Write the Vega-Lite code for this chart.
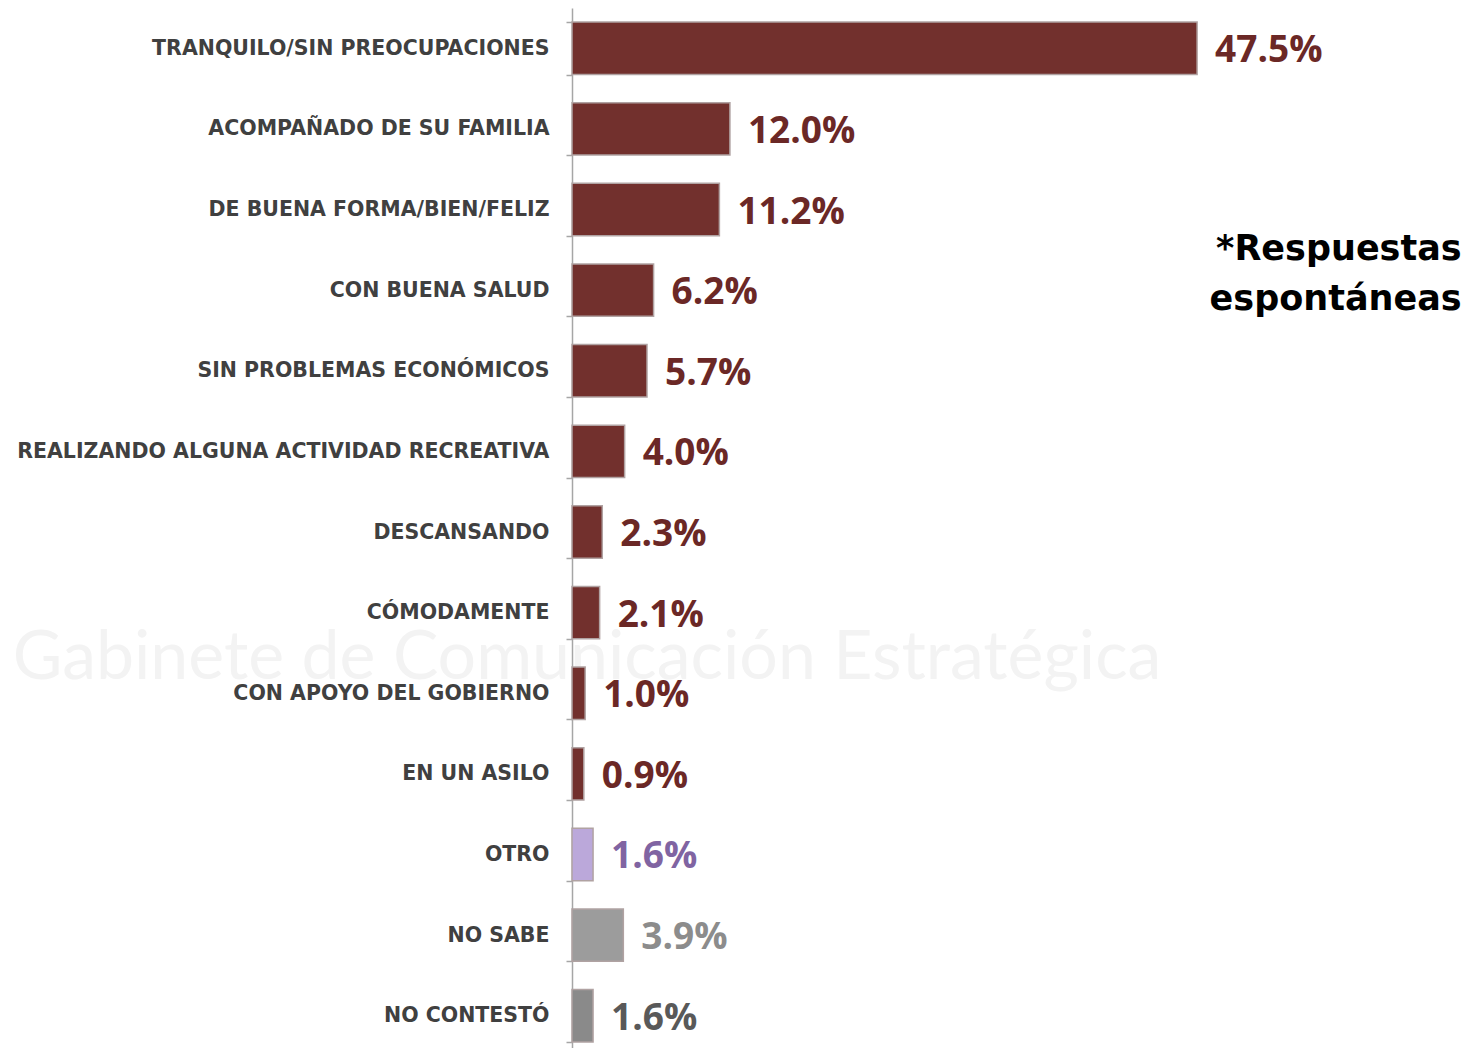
{
  "$schema": "https://vega.github.io/schema/vega-lite/v6.json",
  "width": 912,
  "height": 1048,
  "autosize": {"type": "none"},
  "padding": {"left": 572, "top": 8, "right": 0, "bottom": 0},
  "background": "white",
  "config": {"view": {"stroke": null}},
  "data": {
    "values": [
      {"respuesta": "TRANQUILO/SIN PREOCUPACIONES", "porcentaje": 0.475, "grupo": "Respuesta"},
      {"respuesta": "ACOMPAÑADO DE SU FAMILIA", "porcentaje": 0.12, "grupo": "Respuesta"},
      {"respuesta": "DE BUENA FORMA/BIEN/FELIZ", "porcentaje": 0.112, "grupo": "Respuesta"},
      {"respuesta": "CON BUENA SALUD", "porcentaje": 0.062, "grupo": "Respuesta"},
      {"respuesta": "SIN PROBLEMAS ECONÓMICOS", "porcentaje": 0.057, "grupo": "Respuesta"},
      {"respuesta": "REALIZANDO ALGUNA ACTIVIDAD RECREATIVA", "porcentaje": 0.04, "grupo": "Respuesta"},
      {"respuesta": "DESCANSANDO", "porcentaje": 0.023, "grupo": "Respuesta"},
      {"respuesta": "CÓMODAMENTE", "porcentaje": 0.021, "grupo": "Respuesta"},
      {"respuesta": "CON APOYO DEL GOBIERNO", "porcentaje": 0.01, "grupo": "Respuesta"},
      {"respuesta": "EN UN ASILO", "porcentaje": 0.009, "grupo": "Respuesta"},
      {"respuesta": "OTRO", "porcentaje": 0.016, "grupo": "Otro"},
      {"respuesta": "NO SABE", "porcentaje": 0.039, "grupo": "No sabe"},
      {"respuesta": "NO CONTESTÓ", "porcentaje": 0.016, "grupo": "No contestó"}
    ]
  },
  "encoding": {
    "y": {
      "field": "respuesta", "type": "nominal", "sort": null,
      "scale": {
        "domain": ["TRANQUILO/SIN PREOCUPACIONES", "ACOMPAÑADO DE SU FAMILIA", "DE BUENA FORMA/BIEN/FELIZ", "CON BUENA SALUD", "SIN PROBLEMAS ECONÓMICOS", "REALIZANDO ALGUNA ACTIVIDAD RECREATIVA", "DESCANSANDO", "CÓMODAMENTE", "CON APOYO DEL GOBIERNO", "EN UN ASILO", "OTRO", "NO SABE", "NO CONTESTÓ"],
        "paddingInner": 0.35, "paddingOuter": 0.175
      },
      "axis": {
        "title": null,
        "domainColor": "#A6A6A6", "domainWidth": 1.5,
        "tickColor": "#A6A6A6", "tickSize": 6, "tickWidth": 1.5, "tickBand": "extent",
        "labelFont": "DejaVu Sans", "labelFontWeight": "bold", "labelFontSize": 20.5,
        "labelColor": "#404040", "labelPadding": 17, "labelLimit": 600
      }
    },
    "x": {"field": "porcentaje", "type": "quantitative", "scale": {"domain": [0, 0.693], "nice": false, "zero": true}, "axis": null}
  },
  "layer": [
    {
      "transform": [{"filter": "datum.respuesta === 'CÓMODAMENTE'"}],
      "mark": {"type": "text", "align": "left", "baseline": "middle", "font": "Lato", "fontSize": 68, "color": "#F3F3F3", "dy": 46, "clip": false, "text": "Gabinete de  Comunicación  Estratégica"},
      "encoding": {
        "x": {"datum": -0.425, "type": "quantitative", "axis": null}
      }
    },
    {
      "mark": {"type": "bar", "stroke": "#B0A2A2", "strokeWidth": 1.5},
      "encoding": {
        "color": {
          "field": "grupo", "type": "nominal",
          "scale": {"domain": ["Respuesta", "Otro", "No sabe", "No contestó"], "range": ["#72302D", "#BBA8DA", "#9C9C9C", "#8A8A8A"]},
          "legend": null
        }
      }
    },
    {
      "mark": {"type": "text", "align": "left", "baseline": "middle", "dx": 18, "dy": 3, "font": "Open Sans", "fontWeight": "bold", "fontSize": 37},
      "encoding": {
        "text": {"field": "porcentaje", "type": "quantitative", "format": ".1%"},
        "fill": {
          "field": "grupo", "type": "nominal",
          "scale": {"domain": ["Respuesta", "Otro", "No sabe", "No contestó"], "range": ["#6B2826", "#8064A2", "#8C8C8C", "#595959"]},
          "legend": null
        }
      }
    },
    {
      "transform": [{"filter": "datum.respuesta === 'CON BUENA SALUD'"}],
      "mark": {"type": "text", "align": "right", "baseline": "middle", "lineHeight": 50, "dy": -41, "font": "DejaVu Sans", "fontWeight": "bold", "fontSize": 35, "color": "#000000", "clip": false, "text": ["*Respuestas", "espontáneas"]},
      "encoding": {
        "x": {"datum": 0.676, "type": "quantitative", "axis": null}
      }
    }
  ]
}
